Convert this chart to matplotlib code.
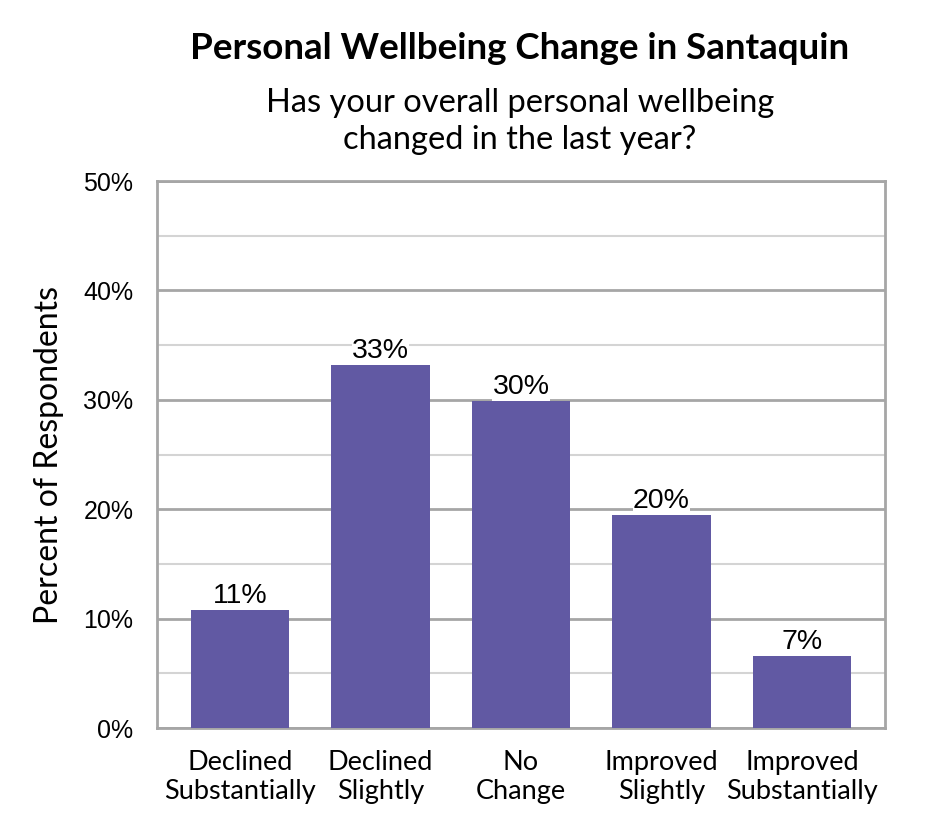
import matplotlib
matplotlib.use("Agg")
import matplotlib.pyplot as plt
from matplotlib.ticker import MultipleLocator, FuncFormatter

categories = ["Declined\nSubstantially", "Declined\nSlightly", "No\nChange",
              "Improved\nSlightly", "Improved\nSubstantially"]
values = [10.8, 33.2, 29.9, 19.5, 6.6]
labels = ["11%", "33%", "30%", "20%", "7%"]

fig = plt.figure(figsize=(9.45, 8.4), dpi=100)
ax = fig.add_axes([0.1661, 0.1333, 0.7704, 0.6512])

x = range(len(categories))
bars = ax.bar(x, values, width=0.70, color="#6159A3", zorder=3)

ax.set_xlim(-0.59, len(categories) - 1 + 0.59)
ax.set_ylim(0, 50)
ax.yaxis.set_major_locator(MultipleLocator(10))
ax.yaxis.set_minor_locator(MultipleLocator(5))
ax.yaxis.set_major_formatter(FuncFormatter(lambda v, p: f"{int(v)}%"))
ax.grid(axis="y", which="major", color="#A6A6A6", linewidth=2, zorder=0)
ax.grid(axis="y", which="minor", color="#D4D4D4", linewidth=1.5, zorder=0)
for s in ax.spines.values():
    s.set_color("#A6A6A6")
    s.set_linewidth(2)
ax.tick_params(axis="y", which="both", length=0, pad=17, labelsize=18)
ax.tick_params(axis="x", length=0, pad=16)
for t in ax.get_yticklabels():
    t.set_fontfamily("Liberation Sans")
ax.set_xticks(list(x))
ax.set_xticklabels(categories, fontfamily="Lato", fontsize=19.5, linespacing=1.2)

for b, lab in zip(bars, labels):
    ax.text(b.get_x() + b.get_width() / 2, b.get_height() + 0.05, lab,
            ha="center", va="bottom", fontsize=20.5, fontfamily="Liberation Sans",
            zorder=4, bbox=dict(facecolor="white", edgecolor="none", pad=0.3))

ax.set_ylabel("Percent of Respondents", fontfamily="Lato", fontsize=23, labelpad=14)

fig.text(0.55, 0.942, "Personal Wellbeing Change in Santaquin", ha="center", va="center",
         fontfamily="Lato", fontweight="bold", fontsize=26.5)
fig.text(0.55, 0.855, "Has your overall personal wellbeing\nchanged in the last year?",
         ha="center", va="center", fontfamily="Lato", fontsize=23.5, linespacing=1.3)

fig.savefig("out.png", dpi=100, facecolor="white")
